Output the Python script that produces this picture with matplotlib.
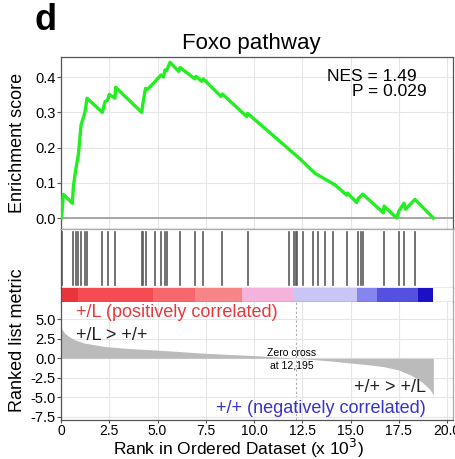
import matplotlib
matplotlib.use("Agg")
import matplotlib.pyplot as plt

plt.rcParams['font.family'] = ['Liberation Sans', 'DejaVu Sans']

# running enrichment score, vertices (rank in thousands)
es_rank = [0.0, 0.03, 0.12, 0.59, 0.64, 0.76, 0.90, 1.04, 1.24, 1.35, 2.14, 2.28, 2.42, 2.50,
           2.80, 2.83, 4.18, 4.26, 4.38, 4.50, 4.87, 5.18, 5.30, 5.39, 5.47, 5.65, 6.10, 6.17,
           6.94, 7.00, 7.29, 7.37, 8.29, 8.36, 9.62, 9.67, 12.38, 13.16, 14.20, 14.80, 14.84,
           15.32, 15.40, 15.53, 15.63, 16.70, 16.74, 17.39, 17.51, 17.77, 17.85, 18.34, 19.29]
es_val = [0.0, 0.0, 0.067, 0.042, 0.089, 0.136, 0.180, 0.264, 0.300, 0.340, 0.300, 0.330, 0.335,
          0.351, 0.340, 0.371, 0.300, 0.330, 0.368, 0.366, 0.387, 0.406, 0.400, 0.420, 0.418,
          0.442, 0.416, 0.427, 0.395, 0.402, 0.388, 0.395, 0.345, 0.352, 0.288, 0.297, 0.168,
          0.127, 0.094, 0.065, 0.071, 0.044, 0.055, 0.062, 0.068, 0.015, 0.034, 0.0, 0.020,
          0.042, 0.025, 0.053, 0.0]

# gene set member positions (rank in thousands)
hits = [0.04, 0.64, 0.76, 0.90, 1.04, 1.24, 1.33, 2.14, 2.42, 2.80, 4.18, 4.26, 4.38, 4.87,
        5.18, 5.39, 5.47, 6.17, 6.94, 7.37, 8.36, 9.67, 11.83, 12.07, 12.16, 12.24, 12.52,
        13.04, 13.33, 13.68, 14.08, 14.84, 15.40, 15.53, 15.63, 16.74, 17.51, 17.77, 18.34]

# ranked list metric
metric_rank = [0.0, 0.05, 0.2, 0.4, 0.72, 1.2, 2.28, 3.5, 4.87, 6.2, 7.46, 8.8, 10.05, 11.0,
               12.195, 13.0, 14.0, 14.97, 16.0, 16.7, 17.5, 18.08, 18.5, 18.77, 19.0, 19.2, 19.29]
metric_val = [4.1, 3.7, 3.2, 2.8, 2.35, 1.95, 1.5, 1.25, 1.06, 0.85, 0.64, 0.48, 0.34, 0.2,
              0.0, -0.15, -0.35, -0.6, -0.85, -1.07, -1.5, -2.1, -2.7, -3.2, -3.7, -4.3, -4.7]

# heat bar segment bounds (rank in thousands)
bar_edges = [0.0, 0.9, 4.78, 6.94, 9.36, 12.04, 15.32, 16.36, 18.5, 19.29]
bar_colors = ['#e8343a', '#f44c52', '#f7686e', '#f78588', '#f5b3dc', '#c9c6f5',
              '#8585f0', '#5450e0', '#1c10c4']

zero_cross = 12.195
xticks = [0, 2.5, 5.0, 7.5, 10.0, 12.5, 15.0, 17.5, 20.0]

fig = plt.figure(figsize=(4.55, 4.59), dpi=100)
L, W = 61 / 455, 392 / 455
XMAX = 20.31

def box(top, bot):
    return [L, 1 - bot / 459, W, (bot - top) / 459]

ax1 = fig.add_axes(box(57, 229))
ax2 = fig.add_axes(box(229, 288))
ax3 = fig.add_axes(box(288, 302))
ax4 = fig.add_axes(box(302, 420))

spine_c = '#555555'
grid_c = '#e6e6e6'

# enrichment score
ax1.plot(es_rank, es_val, color='#22ee22', lw=2.4, zorder=3)
ax1.axhline(0, color='#999999', lw=1.2, zorder=2)
ax1.set_xlim(0, XMAX)
ax1.set_ylim(-0.031, 0.457)
ax1.set_yticks([0.0, 0.1, 0.2, 0.3, 0.4])
ax1.set_yticklabels(['0.0', '0.1', '0.2', '0.3', '0.4'])
ax1.set_xticks(xticks)
ax1.tick_params(axis='x', length=0, labelbottom=False)
ax1.tick_params(axis='y', length=3, pad=1, labelsize=10.5, color=spine_c)
ax1.grid(True, color=grid_c, lw=0.8, zorder=0)
ax1.set_title('Foxo pathway', fontsize=16, x=0.485, pad=6)
ax1.text(0.906, 0.884, 'NES = 1.49', transform=ax1.transAxes, ha='right', va='center',
         fontsize=12.5)
ax1.text(0.932, 0.800, 'P = 0.029', transform=ax1.transAxes, ha='right', va='center',
         fontsize=12.5)

# hits
for h in hits:
    ax2.plot([h, h], [0.05, 1.0], color='#5a5a5a', lw=1.2)
ax2.set_xlim(0, XMAX)
ax2.set_ylim(0, 1.05)
ax2.set_xticks([])
ax2.set_yticks([])

# heat bar
for i, c in enumerate(bar_colors):
    ax3.axvspan(bar_edges[i], bar_edges[i + 1], color=c, lw=0)
ax3.set_xlim(0, XMAX)
ax3.set_ylim(0, 1)
ax3.set_xticks([])
ax3.set_yticks([])

# ranked list metric
ax4.fill_between(metric_rank, 0, metric_val, color='#bbbbbb', lw=0, zorder=2)
ax4.axvline(zero_cross, color='#aaaaaa', lw=0.8, ls=(0, (2, 2)), zorder=1)
ax4.set_xlim(0, XMAX)
ax4.set_ylim(-7.9, 7.2)
ax4.set_yticks([5.0, 2.5, 0.0, -2.5, -5.0, -7.5])
ax4.set_yticklabels(['5.0', '2.5', '0.0', '-2.5', '-5.0', '-7.5'])
ax4.set_xticks(xticks)
ax4.set_xticklabels(['0', '2.5', '5.0', '7.5', '10.0', '12.5', '15.0', '17.5', '20.0'])
ax4.tick_params(axis='y', length=3, pad=1, labelsize=10.5, color=spine_c)
ax4.tick_params(axis='x', length=2.5, pad=0.5, labelsize=10, color=spine_c)
ax4.grid(True, color=grid_c, lw=0.8, zorder=0)
ax4.text(0.78, 5.9, '+/L (positively correlated)', color='#e8383d', fontsize=13, va='center')
ax4.text(0.78, 2.85, '+/L > +/+', color='#222222', fontsize=13, va='center')
ax4.text(11.97, -0.1, 'Zero cross\nat 12,195', fontsize=7.5, ha='center', va='center',
         linespacing=1.3)
ax4.text(18.9, -3.8, '+/+ > +/L', color='#222222', fontsize=13, ha='right', va='center')
ax4.text(18.9, -6.4, '+/+ (negatively correlated)', color='#3a32cc', fontsize=13,
         ha='right', va='center')

for ax in (ax1, ax2, ax3, ax4):
    for s in ax.spines.values():
        s.set_color(spine_c)
        s.set_linewidth(0.9)
for ax in (ax2, ax3, ax4):
    for side in ('top', 'right'):
        ax.spines[side].set_color('#aaaaaa')
ax3.spines['top'].set_visible(False)
ax4.spines['top'].set_visible(False)

fig.text(18 / 455, 1 - 143 / 459, 'Enrichment score', rotation=90, ha='center', va='center',
         fontsize=13)
fig.text(18 / 455, 1 - 340 / 459, 'Ranked list metric', rotation=90, ha='center', va='center',
         fontsize=13)
fig.text(238 / 455, 1 - 455 / 459, 'Rank in Ordered Dataset (x 10$^3$)', ha='center',
         va='baseline', fontsize=12.5)
fig.text(35 / 455, 1 - 21 / 459, 'd', fontsize=26, fontweight='bold', va='center')

fig.savefig('out.png', dpi=100)
